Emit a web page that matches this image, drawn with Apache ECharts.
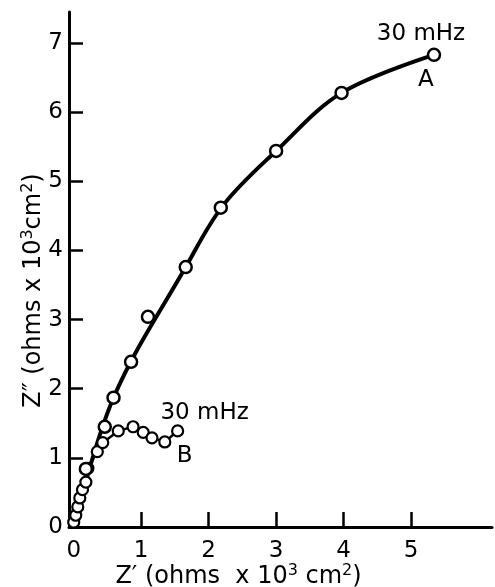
<!DOCTYPE html>
<html>
<head>
<meta charset="utf-8">
<script src="https://cdn.jsdelivr.net/npm/echarts@6/dist/echarts.min.js"></script>
<style>
  html, body { margin: 0; padding: 0; background: #fff; }
  #chart { width: 495px; height: 587px; }
</style>
</head>
<body>
<div id="chart"></div>
<script>
const curveA_x = [0.18, 0.46, 0.59, 0.85, 1.10, 1.66, 2.18, 3.00, 3.97, 5.34]
const curveA_y = [0.84, 1.45, 1.87, 2.39, 3.04, 3.76, 4.62, 5.44, 6.28, 6.83]

// the drawn (fitted) line of curve A, read at a few places along it
const fitA_x = [0, 0.59, 1.66, 2.22, 3.00, 3.97, 5.34]
const fitA_y = [0, 1.87, 3.76, 4.66, 5.44, 6.28, 6.83]

// curve B
const curveB_x = [0.00, 0.03, 0.06, 0.09, 0.13, 0.18, 0.21, 0.35, 0.43, 0.66, 0.88, 1.03, 1.16, 1.35, 1.54]
const curveB_y = [0.07, 0.17, 0.29, 0.42, 0.54, 0.65, 0.85, 1.09, 1.22, 1.39, 1.45, 1.37, 1.29, 1.23, 1.39]

const xTicks = [0, 1, 2, 3, 4, 5]
const yTicks = [0, 1, 2, 3, 4, 5, 6, 7]

const FONT = '"DejaVu Sans", sans-serif'
const FS = 23
const chart = echarts.init(document.getElementById('chart'))

const dataA = curveA_x.map((x, i) => [x, curveA_y[i]])
const dataFit = fitA_x.map((x, i) => [x, fitA_y[i]])
const dataB = curveB_x.map((x, i) => [x, curveB_y[i]])

const rich = {
  t: { fontSize: 24, fontFamily: FONT, color: '#000' },
  sup: { fontSize: 16, fontFamily: FONT, color: '#000', padding: [0, 0, 11, 0] }
}

chart.setOption({
  animation: false,
  grid: { left: 69, right: 3, top: 12, bottom: 60, containLabel: false, outerBoundsMode: 'none' },
  xAxis: {
    type: 'value', min: -0.07, max: 6.2,
    name: '{t|Z\u2032 (ohms  x 10}{sup|3}{t| cm}{sup|2}{t|)}',
    nameLocation: 'middle', nameGap: 36, nameMoveOverlap: false,
    nameTextStyle: { rich, padding: [0, 84, 0, 0] },
    axisLine: { onZero: false, lineStyle: { color: '#000', width: 3 } },
    axisTick: { inside: true, length: 15, lineStyle: { color: '#000', width: 2.5 }, customValues: xTicks.slice(1) },
    axisLabel: { customValues: xTicks, margin: 13, color: '#000', fontSize: FS, fontFamily: FONT },
    splitLine: { show: false }
  },
  yAxis: {
    type: 'value', min: 0, max: 7.45,
    name: '{t|Z\u2033 (ohms x 10}{sup|3}{t|cm}{sup|2}{t|)}',
    nameLocation: 'middle', nameGap: 22, nameRotate: 90, nameMoveOverlap: false,
    nameTextStyle: { rich, padding: [0, 42, 0, 0] },
    axisLine: { onZero: false, lineStyle: { color: '#000', width: 3 } },
    axisTick: { inside: true, length: 14, lineStyle: { color: '#000', width: 2.5 }, customValues: yTicks.slice(1) },
    axisLabel: { customValues: yTicks, margin: 6, color: '#000', fontSize: FS, fontFamily: FONT },
    splitLine: { show: false }
  },
  series: [
    {
      name: 'A fit', type: 'line', data: dataFit, smooth: 0.35,
      symbol: 'none', lineStyle: { color: '#000', width: 4 }, z: 2
    },
    {
      name: 'A', type: 'scatter', data: dataA,
      symbol: 'circle', symbolSize: 12,
      itemStyle: { color: '#fff', borderColor: '#000', borderWidth: 2.5, opacity: 1 },
      z: 4
    },
    {
      name: 'B', type: 'line', data: dataB,
      symbol: 'circle', symbolSize: 11, showAllSymbol: true,
      lineStyle: { color: '#000', width: 2.5 },
      itemStyle: { color: '#fff', borderColor: '#000', borderWidth: 2.2 },
      z: 3
    }
  ]
})

// frequency and curve labels placed next to the last point of each curve
const lastA = chart.convertToPixel({ gridIndex: 0 }, dataA[dataA.length - 1])
const lastB = chart.convertToPixel({ gridIndex: 0 }, dataB[dataB.length - 1])
const txt = (s, x, y) => ({
  type: 'text', x, y,
  style: { text: s, fontSize: FS, fontFamily: FONT, fill: '#000', align: 'center', verticalAlign: 'middle' }
})
chart.setOption({
  graphic: [
    txt('30 mHz', lastA[0] - 13, lastA[1] - 21),
    txt('A', lastA[0] - 8, lastA[1] + 25),
    txt('30 mHz', lastB[0] + 27, lastB[1] - 18),
    txt('B', lastB[0] + 7, lastB[1] + 25)
  ]
})
</script>
</body>
</html>
